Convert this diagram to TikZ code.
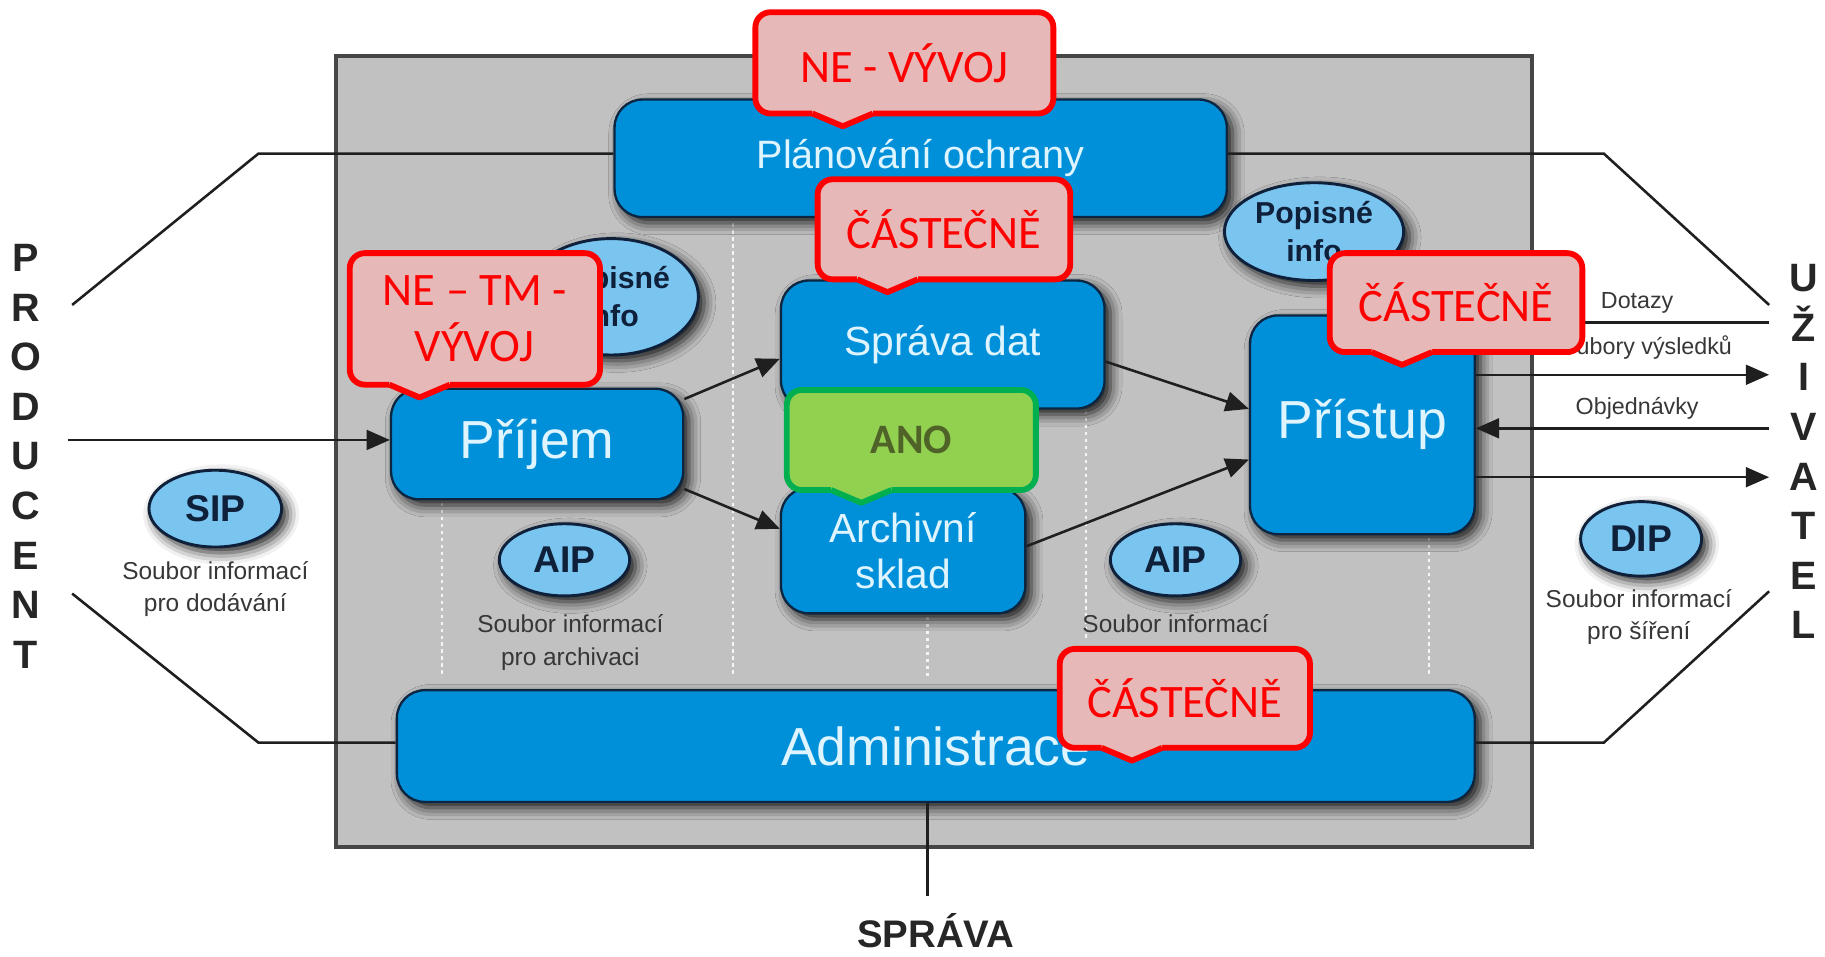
\documentclass[tikz,border=0pt]{standalone}
\usepackage{fontspec}
\setmainfont{Liberation Sans}
\newfontfamily\calibri{Carlito}
\usetikzlibrary{shapes.geometric, arrows.meta, positioning, calc, shadows.blur}
\definecolor{oaisgray}{RGB}{193,193,193}
\definecolor{framegray}{RGB}{70,70,70}
\definecolor{boxblue}{RGB}{0,144,218}
\definecolor{boxedge}{RGB}{12,38,66}
\definecolor{boxtext}{RGB}{222,244,255}
\definecolor{pkgblue}{RGB}{122,196,240}
\definecolor{pkgedge}{RGB}{14,32,58}
\definecolor{notegray}{RGB}{55,55,55}
\definecolor{callred}{RGB}{255,0,0}
\definecolor{callpink}{RGB}{230,185,184}
\definecolor{callgreen}{RGB}{146,208,80}
\definecolor{greenedge}{RGB}{0,176,80}
\definecolor{greentext}{RGB}{79,98,40}
\tikzset{
  block/.style={rectangle, draw=boxedge, fill=boxblue, text=boxtext,
    rounded corners=24pt, line width=2pt, align=center, inner sep=0pt,
    blur shadow={shadow xshift=5pt, shadow yshift=-5pt,
      shadow blur radius=10pt, shadow opacity=90}},
  package/.style={ellipse, draw=pkgedge, fill=pkgblue, text=pkgedge,
    line width=2.5pt, align=center, inner sep=0pt,
    font=\bfseries\fontsize{32}{36}\selectfont,
    blur shadow={shadow xshift=5pt, shadow yshift=-5pt,
      shadow blur radius=10pt, shadow opacity=90}},
  note/.style={align=center, text=notegray, font=\fontsize{21}{28}\selectfont},
  side/.style={align=center, text=black!85,
    font=\bfseries\fontsize{34}{42.6}\selectfont},
  wire/.style={line width=2.2pt, draw=black!88},
  arrow/.style={wire, -{Triangle[length=20pt, width=17pt]}},
  divider/.style={draw=white, line width=2pt, dash pattern=on 3pt off 3pt,
    opacity=0.85},
  redcall/.style={rectangle, rounded corners=13pt, draw=callred,
    fill=callpink, text=callred, line width=5pt, outer sep=0pt,
    align=center, font=\calibri\fontsize{40}{48}\selectfont},
  greencall/.style={redcall, draw=greenedge, fill=callgreen, text=greentext,
    font=\calibri\bfseries\fontsize{36}{40}\selectfont},
  redtip/.style={draw=callred, line width=5pt, line join=round},
  greentip/.style={redtip, draw=greenedge}
}
\begin{document}
\begin{tikzpicture}[x=1pt, y=-1pt]
  \useasboundingbox (0,0) rectangle (1568,822);

  % archive frame
  \draw[draw=framegray, fill=oaisgray, line width=3.5pt] (289,48) rectangle (1316,728);
  \draw[divider] (380,432) -- (380,582);
  \draw[divider] (630,192) -- (630,582);
  \draw[divider] (797,530) -- (797,582);
  \draw[divider] (933,353) -- (933,550);
  \draw[divider] (1228,462) -- (1228,582);

  % producer and consumer
  \node[side] (producent) at (22,392) {P\\R\\O\\D\\U\\C\\E\\N\\T};
  \node[side] (uzivatel) at (1550,388) {U\\Ž\\I\\V\\A\\T\\E\\L};
  \coordinate (pT) at (62,262);
  \coordinate (pTk) at (222,132);
  \coordinate (pB) at (62,510);
  \coordinate (pBk) at (222,638);
  \coordinate (uT) at (1520,262);
  \coordinate (uTk) at (1378,132);
  \coordinate (uB) at (1520,508);
  \coordinate (uBk) at (1378,638);

  % functional blocks
  \node[block, minimum width=526pt, minimum height=101pt,
    font=\fontsize{34}{38}\selectfont] (plan) at (791,136) {Plánování ochrany};
  \node[block, minimum width=251pt, minimum height=95pt,
    font=\fontsize{46}{50}\selectfont] (prijem) at (461.5,381.5) {Příjem};
  \node[block, minimum width=278pt, minimum height=110pt,
    font=\fontsize{35}{40}\selectfont] (sprava) at (810,296) {Správa dat};
  \node[block, minimum width=210pt, minimum height=108pt,
    font=\fontsize{35}{40}\selectfont] (archiv) at (776,473) {Archivní\\sklad};
  \node[block, minimum width=193pt, minimum height=188pt,
    font=\fontsize{46}{50}\selectfont] (pristup) at (1170.5,365) {Přístup};
  \node[block, minimum width=926pt, minimum height=96pt,
    font=\fontsize{46}{50}\selectfont] (admin) at (804,641) {Administrace};

  \draw[wire] (pT) -- (pTk) -- (plan.west |- pTk);
  \draw[wire] (plan.east |- uTk) -- (uTk) -- (uT);
  \draw[wire] (pB) -- (pBk) -- (admin.west |- pBk);
  \draw[wire] (admin.east |- uBk) -- (uBk) -- (uB);

  % information packages
  \node[package, minimum width=150pt, minimum height=100pt,
    font=\bfseries\fontsize{26}{33}\selectfont] (popisL) at (525,255) {Popisné\\info};
  \node[package, minimum width=154pt, minimum height=84pt,
    font=\bfseries\fontsize{26}{33}\selectfont] (popisR) at (1129,199) {Popisné\\info};
  \node[package, minimum width=114pt, minimum height=66pt] (sip) at (185,437) {SIP};
  \node[package, minimum width=112pt, minimum height=62pt] (aipL) at (485,481) {AIP};
  \node[package, minimum width=112pt, minimum height=62pt] (aipR) at (1010,481) {AIP};
  \node[package, minimum width=104pt, minimum height=64pt] (dip) at (1410,463) {DIP};
  \node[note] (sipNote) at (185,506) {Soubor informací\\pro dodávání};
  \node[note] (aipLNote) at (490,552) {Soubor informací\\pro archivaci};
  \node[note] (aipRNote) at (1010,536) {Soubor informací};
  \node[note] (dipNote) at (1408,530) {Soubor informací\\pro šíření};

  % flows
  \coordinate (pIn) at (58,378);
  \draw[arrow] (pIn) -- (prijem.west |- pIn);
  \draw[arrow] (prijem.17) -- (sprava.185);
  \draw[arrow] (prijem.-17) -- (archiv.170);
  \draw[arrow] (sprava.-6) -- (pristup.172);
  \draw[arrow] (archiv.2) -- (pristup.197);

  \coordinate (q1) at (1520,277);
  \coordinate (q2) at (1520,322);
  \coordinate (q3) at (1520,368);
  \coordinate (q4) at (1520,410);
  \draw[arrow] (q1) -- (pristup.east |- q1)
    node[note, pos=0.45, above=3pt, font=\fontsize{20}{24}\selectfont] (lq1) {Dotazy};
  \draw[arrow] (pristup.east |- q2) -- (q2)
    node[note, pos=0.56, above=9pt, font=\fontsize{20}{24}\selectfont] (lq2) {Soubory výsledků};
  \draw[arrow] (q3) -- (pristup.east |- q3)
    node[note, pos=0.45, above=3pt, font=\fontsize{20}{24}\selectfont] (lq3) {Objednávky};
  \draw[arrow] (pristup.east |- q4) -- (q4);

  % management
  \node[font=\bfseries\fontsize{33}{36}\selectfont, text=black!85] (spravaLbl) at (804,800) {SPRÁVA};
  \coordinate (sprTop) at (797,770);
  \draw[wire] (admin.south -| sprTop) -- (sprTop);

  % status callouts
  \node[redcall, minimum width=256pt, minimum height=87pt] (cA) at (777,54) {NE - VÝVOJ};
  \path (cA.south west) ++(75,0) coordinate (cAtip);
  \fill[callpink] ($(cAtip)+(-26,-4)$) -- ++(0,4) -- ++(26,11) -- ++(26,-11) -- ++(0,-4) -- cycle;
  \draw[redtip] ($(cAtip)+(-26,0)$) -- ++(26,11) -- ++(26,-11);

  \node[redcall, minimum width=217pt, minimum height=86pt] (cB) at (811,197) {ČÁSTEČNĚ};
  \path (cB.south west) ++(60,0) coordinate (cBtip);
  \fill[callpink] ($(cBtip)+(-26,-4)$) -- ++(0,4) -- ++(26,11) -- ++(26,-11) -- ++(0,-4) -- cycle;
  \draw[redtip] ($(cBtip)+(-26,0)$) -- ++(26,11) -- ++(26,-11);

  \node[redcall, minimum width=215pt, minimum height=113pt] (cC) at (408,274) {NE – TM -\\VÝVOJ};
  \path (cC.south west) ++(60,0) coordinate (cCtip);
  \fill[callpink] ($(cCtip)+(-26,-4)$) -- ++(0,4) -- ++(26,11) -- ++(26,-11) -- ++(0,-4) -- cycle;
  \draw[redtip] ($(cCtip)+(-26,0)$) -- ++(26,11) -- ++(26,-11);

  \node[greencall, minimum width=214pt, minimum height=86pt] (cD) at (783,378) {ANO};
  \path (cD.south west) ++(64,0) coordinate (cDtip);
  \fill[callgreen] ($(cDtip)+(-26,-4)$) -- ++(0,4) -- ++(26,11) -- ++(26,-11) -- ++(0,-4) -- cycle;
  \draw[greentip] ($(cDtip)+(-26,0)$) -- ++(26,11) -- ++(26,-11);

  \node[redcall, minimum width=217pt, minimum height=85pt] (cE) at (1251,260) {ČÁSTEČNĚ};
  \path (cE.south west) ++(62,0) coordinate (cEtip);
  \fill[callpink] ($(cEtip)+(-26,-4)$) -- ++(0,4) -- ++(26,11) -- ++(26,-11) -- ++(0,-4) -- cycle;
  \draw[redtip] ($(cEtip)+(-26,0)$) -- ++(26,11) -- ++(26,-11);

  \node[redcall, minimum width=215pt, minimum height=85pt] (cF) at (1018,600) {ČÁSTEČNĚ};
  \path (cF.south west) ++(62,0) coordinate (cFtip);
  \fill[callpink] ($(cFtip)+(-26,-4)$) -- ++(0,4) -- ++(26,11) -- ++(26,-11) -- ++(0,-4) -- cycle;
  \draw[redtip] ($(cFtip)+(-26,0)$) -- ++(26,11) -- ++(26,-11);
\end{tikzpicture}
\end{document}
